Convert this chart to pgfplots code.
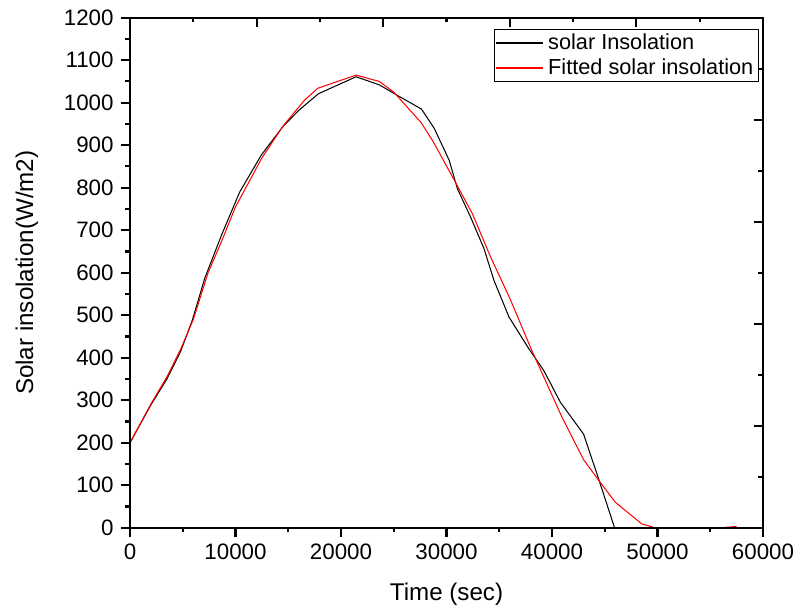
\documentclass[border=0pt]{standalone}
\usepackage{fontspec}
\setmainfont{Liberation Sans}
\usepackage{pgfplots}
\pgfplotsset{compat=1.18}

\newcommand{\tickfont}{\fontsize{10.9}{12}\selectfont}
\newcommand{\legfont}{\fontsize{10.6}{12}\selectfont}
\newcommand{\labfont}{\fontsize{11.8}{14}\selectfont}

\pgfplotsset{
  frame/.style={
    scale only axis, width=309pt, height=249pt,
    xmin=0, xmax=60000, ymin=0, ymax=1200,
    axis line style={line width=1pt},
    every tick/.style={black, line width=1pt},
    major tick length=4.5pt, minor tick length=2.3pt,
    scaled ticks=false,
    /pgf/number format/assume math mode=true,
    /pgf/number format/1000 sep={},
    tick label style={font=\tickfont},
  },
}

\begin{document}
\begin{tikzpicture}
\begin{axis}[
  frame, name=main,
  axis on top,
  xtick={0,10000,...,60000}, minor x tick num=1,
  ytick={0,100,...,1200}, minor y tick num=1,
  xtick pos=left, ytick pos=left,
  tick align=outside,
  xlabel={Time (sec)},
  ylabel={Solar insolation(W/m2)},
  label style={font=\labfont},
  xlabel style={at={(axis description cs:0.5,-0.13)}, anchor=center},
  ylabel style={at={(axis description cs:-0.163,0.5)}, anchor=center},
  legend cell align=left,
  legend image code/.code={\draw[#1, line width=0.7pt] (0pt,0pt) -- (23pt,0pt);},
  legend style={font=\legfont, draw=black, line width=0.5pt,
    at={(rel axis cs:0.9937,0.978)}, anchor=north east,
    inner xsep=0.5pt, inner ysep=0.5pt,
    nodes={inner xsep=2pt, inner ysep=1.5pt}},
]
\addplot[black, line width=0.5pt] coordinates {
  (0,200) (2000,290) (3500,350) (4800,415) (5900,488) (7100,588) (8700,690)
  (10400,790) (12450,877) (14500,944) (16000,982) (17850,1021)
  (21430,1061) (23630,1042) (25500,1015) (27630,985) (28830,940)
  (30250,865) (31030,798) (32300,730) (33550,657) (34500,582)
  (35920,496) (37810,421) (39220,370) (40800,295) (43000,220)
  (44420,115) (45930,0)
};
\addlegendentry{solar Insolation}
\addplot[red, line width=0.5pt] coordinates {
  (0,200) (2000,292) (3500,355) (4800,420) (6000,490) (7400,600) (8700,675)
  (10000,755) (12500,870) (14500,945) (16540,1006) (17800,1034)
  (21430,1065) (23630,1050) (25000,1025) (27600,953) (28700,910)
  (30560,826) (32450,739) (34180,637) (36000,540) (38090,417)
  (40950,260) (43000,160) (44420,112) (46000,60) (48520,9)
  (49780,0) (56000,0) (57500,3)
};
\addlegendentry{Fitted solar insolation}
\coordinate (bl) at (rel axis cs:-0.2054,-0.1594);
\coordinate (tr) at (rel axis cs:1.0506,1.0347);
\end{axis}
\begin{axis}[
  frame,
  xtick={12000,24000,36000,48000},
  minor xtick={6000,18000,30000,42000,54000},
  ytick={240,480,720,960},
  minor ytick={120,360,600,840,1080},
  xticklabels={}, yticklabels={},
  xtick pos=right, ytick pos=right,
  tick align=inside,
]
\end{axis}
\pgfresetboundingbox
\path (bl) rectangle (tr);
\end{tikzpicture}
\end{document}
